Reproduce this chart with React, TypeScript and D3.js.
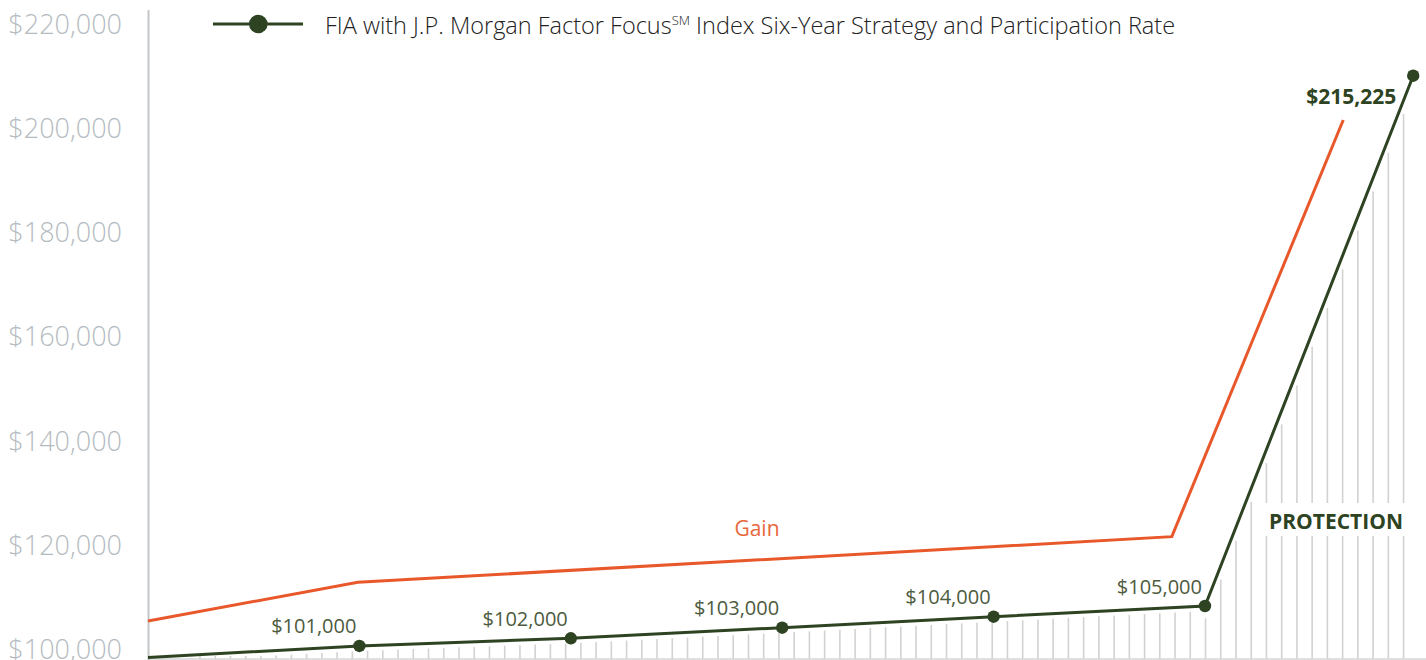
import React from 'react';
import * as d3 from 'd3';

const W = 1426;
const H = 660;

// Axis ticks
const yTicks = [100000, 120000, 140000, 160000, 180000, 200000, 220000];

// FIA line (years, plotted value on the axis scale, and printed label)
const fiaYears = [0, 1, 2, 3, 4, 5, 5.985];
const fiaValues = [100000, 102210, 103680, 105720, 107830, 109880, 211620];
const fiaLabels = ['', '$101,000', '$102,000', '$103,000', '$104,000', '$105,000', '$215,225'];

// Gain line
const gainYears = [0, 0.993, 4.843, 5.654];
const gainValues = [107000, 114430, 123180, 203120];

const legendMain = 'FIA with J.P. Morgan Factor Focus';
const legendSup = 'SM';
const legendRest = ' Index Six-Year Strategy and Participation Rate';

const GREEN = '#2d4322';
const ORANGE = '#e8582b';
const OLIVE = '#4d5b3e';
const AXIS_TXT = '#b4bbc0';
const FONT = '"Open Sans", "Noto Sans", sans-serif';

export default function App() {
  const x = d3.scaleLinear().domain([0, 5]).range([148, 1205]);
  const y = d3.scaleLinear().domain([100000, 220000]).range([657.5, 32]);

  const fiaPts: [number, number][] = fiaYears.map((yr, i) => [x(yr), y(fiaValues[i])]);
  const gainPts: [number, number][] = gainYears.map((yr, i) => [x(yr), y(gainValues[i])]);
  const line = d3.line();

  const baseY = 659;
  const hatchXs = d3.range(200, 1406, 15.235);
  const hatch = hatchXs.map((px) => {
    let i = 0;
    while (i < fiaPts.length - 2 && px > fiaPts[i + 1][0]) i++;
    const [x0, y0] = fiaPts[i];
    const [x1, y1] = fiaPts[i + 1];
    const m = (y1 - y0) / (x1 - x0);
    const ly = y0 + m * (px - x0);
    let top = ly + 5 * Math.sqrt(1 + m * m);
    if (top > baseY - 3) top = baseY - 3;
    return { px, top };
  });

  return (
    <svg
      width={W}
      height={H}
      style={{ position: 'absolute', left: 0, top: 0, background: '#fff', overflow: 'hidden' }}
    >
      {/* baseline */}
      <line x1={148} x2={W} y1={baseY} y2={baseY} stroke="#d6d6d6" strokeWidth={1.5} />
      {/* hatching */}
      {hatch.map((h, i) => (
        <line key={i} x1={h.px} x2={h.px} y1={h.top} y2={baseY} stroke="#d2d2d2" strokeWidth={1.6} />
      ))}
      {/* protection label background */}
      <rect x={1262} y={503} width={146} height={33} fill="#fff" />
      <text x={1336} y={529} textAnchor="middle" fontFamily={FONT} fontWeight={700} fontSize={21} fill={GREEN}>
        PROTECTION
      </text>

      {/* y axis */}
      <line x1={148.5} x2={148.5} y1={10} y2={H} stroke="#c2c6c8" strokeWidth={2} />
      {yTicks.map((t) => (
        <text
          key={t}
          x={122}
          y={y(t) + 1.5}
          textAnchor="end"
          fontFamily={FONT}
          fontWeight={300}
          fontSize={27}
          fill={AXIS_TXT}
        >
          {d3.format('$,')(t)}
        </text>
      ))}

      {/* gain line */}
      <path d={line(gainPts) || ''} fill="none" stroke={ORANGE} strokeWidth={3} />
      <text x={757} y={536} textAnchor="middle" fontFamily={FONT} fontSize={21} fill="#e8683c">
        Gain
      </text>

      {/* FIA line */}
      <path d={line(fiaPts) || ''} fill="none" stroke={GREEN} strokeWidth={3} />
      {fiaPts.slice(1).map((p, i) => (
        <circle key={i} cx={p[0]} cy={p[1]} r={6.2} fill={GREEN} />
      ))}
      {fiaPts.map((p, i) => {
        if (!fiaLabels[i]) return null;
        const last = i === fiaPts.length - 1;
        if (last) {
          return (
            <text key={i} x={p[0] - 17} y={p[1] + 28} textAnchor="end" fontFamily={FONT} fontWeight={700} fontSize={21} fill={GREEN}>
              {fiaLabels[i]}
            </text>
          );
        }
        return (
          <text key={i} x={p[0] - 3} y={p[1] - 12.5} textAnchor="end" fontFamily={FONT} fontSize={20} fill={OLIVE}>
            {fiaLabels[i]}
          </text>
        );
      })}

      {/* legend */}
      <line x1={213} x2={303} y1={24} y2={24} stroke={GREEN} strokeWidth={3} />
      <circle cx={258.3} cy={24} r={9.3} fill={GREEN} />
      <text x={325} y={34} fontFamily={FONT} fontWeight={300} fontSize={23.5} fill="#222">
        {legendMain}
        <tspan fontSize={13} dy={-9}>{legendSup}</tspan>
        <tspan dy={9}>{legendRest}</tspan>
      </text>
    </svg>
  );
}
